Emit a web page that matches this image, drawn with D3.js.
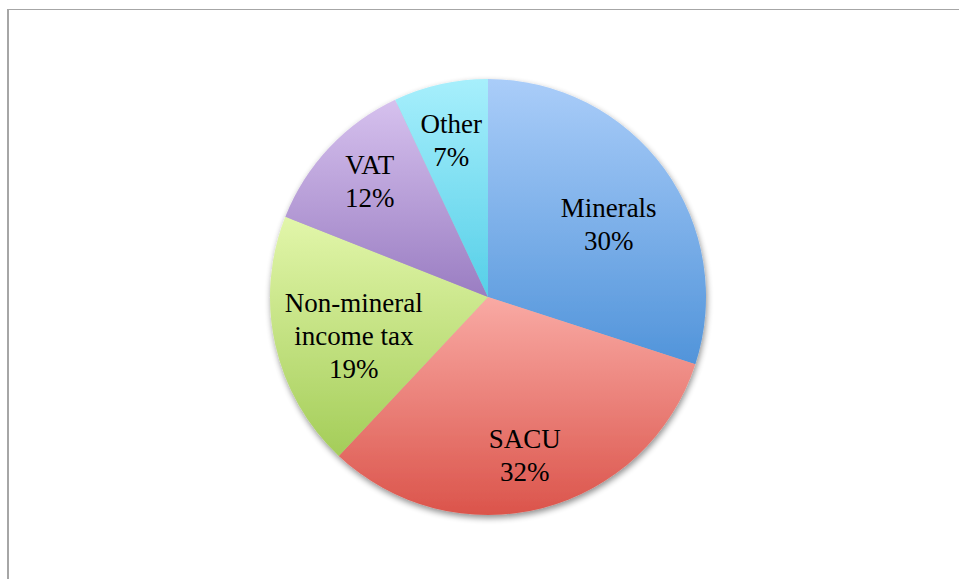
<!DOCTYPE html>
<html>
<head>
<meta charset="utf-8">
<script src="https://cdn.jsdelivr.net/npm/d3@7"></script>
<style>
  html, body { margin: 0; padding: 0; background: #fff; }
  svg { display: block; }
</style>
</head>
<body>
<svg id="chart" width="959" height="579"></svg>
<script>
// Revenue sources (share of total, %)
const categories = ["Minerals", "SACU", "Non-mineral income tax", "VAT", "Other"];
const values = [30, 32, 19, 12, 7];
const labelLines = [["Minerals"], ["SACU"], ["Non-mineral", "income tax"], ["VAT"], ["Other"]];

// Slice fills: light top colour, darker bottom colour
const topColors = ["#aacdf9", "#f9aaa4", "#e2f6aa", "#d6c1ee", "#a7effc"];
const bottomColors = ["#5194da", "#db544b", "#a4cd59", "#9a7dc2", "#56cfe8"];

// Layout
const W = 959, H = 579;
const cx = 488, cy = 297, R = 218;
// label anchor: fraction of radius along the slice bisector, plus a small pixel nudge
const labelPlacement = {
  "Minerals": { r: 0.65, dx: 6, dy: 11 },
  "SACU": { r: 0.75, dx: -4, dy: 0 },
  "Non-mineral income tax": { r: 0.64, dx: 2, dy: 9 },
  "VAT": { r: 0.75, dx: 1, dy: -3 },
  "Other": { r: 0.73, dx: -2, dy: -1 }
};
const fontSize = 27, lineGap = 33;

const svg = d3.select("#chart");
const defs = svg.append("defs");

// chart frame (top and left rules)
svg.append("line").attr("x1", 7).attr("x2", W).attr("y1", 9.5).attr("y2", 9.5)
  .attr("stroke", "#a6a6a6").attr("stroke-width", 1);
svg.append("line").attr("x1", 8).attr("x2", 8).attr("y1", 9).attr("y2", H)
  .attr("stroke", "#a6a6a6").attr("stroke-width", 2);

// soft shadow under the pie
const shadow = defs.append("filter").attr("id", "shadow")
  .attr("x", "-10%").attr("y", "-10%").attr("width", "120%").attr("height", "125%");
shadow.append("feGaussianBlur").attr("in", "SourceAlpha").attr("stdDeviation", 3).attr("result", "b");
shadow.append("feOffset").attr("in", "b").attr("dx", 1).attr("dy", 3).attr("result", "o");
shadow.append("feComponentTransfer").attr("in", "o").attr("result", "s")
  .append("feFuncA").attr("type", "linear").attr("slope", 0.45);
const merge = shadow.append("feMerge");
merge.append("feMergeNode").attr("in", "s");
merge.append("feMergeNode").attr("in", "SourceGraphic");

categories.forEach((c, i) => {
  const g = defs.append("linearGradient").attr("id", "grad" + i)
    .attr("x1", 0).attr("y1", 0).attr("x2", 0).attr("y2", 1);
  g.append("stop").attr("offset", "0%").attr("stop-color", topColors[i]);
  g.append("stop").attr("offset", "100%").attr("stop-color", bottomColors[i]);
});

const data = categories.map((c, i) => ({ name: c, value: values[i], lines: labelLines[i], i }));

const pie = d3.pie().value(d => d.value).sort(null);
const arcs = pie(data);
const arc = d3.arc().innerRadius(0).outerRadius(R);

const g = svg.append("g").attr("transform", `translate(${cx},${cy})`);
g.append("g").attr("filter", "url(#shadow)")
  .selectAll("path").data(arcs).join("path")
  .attr("d", arc)
  .attr("fill", d => `url(#grad${d.data.i})`);

// labels: name lines plus percentage
const labels = g.selectAll("text.lbl").data(arcs).join("text")
  .attr("class", "lbl")
  .attr("text-anchor", "middle")
  .attr("font-family", "'Liberation Serif', 'Times New Roman', serif")
  .attr("font-size", fontSize)
  .attr("fill", "#000")
  .attr("transform", d => {
    const p = labelPlacement[d.data.name];
    const r = R * p.r;
    const a = (d.startAngle + d.endAngle) / 2;
    return `translate(${Math.sin(a) * r + p.dx},${-Math.cos(a) * r + p.dy})`;
  });

labels.each(function(d) {
  const lines = d.data.lines.concat([d.data.value + "%"]);
  const n = lines.length;
  d3.select(this).selectAll("tspan").data(lines).join("tspan")
    .attr("x", 0)
    .attr("y", (t, k) => (k - (n - 1) / 2) * lineGap + fontSize * 0.33)
    .text(t => t);
});
</script>
</body>
</html>
